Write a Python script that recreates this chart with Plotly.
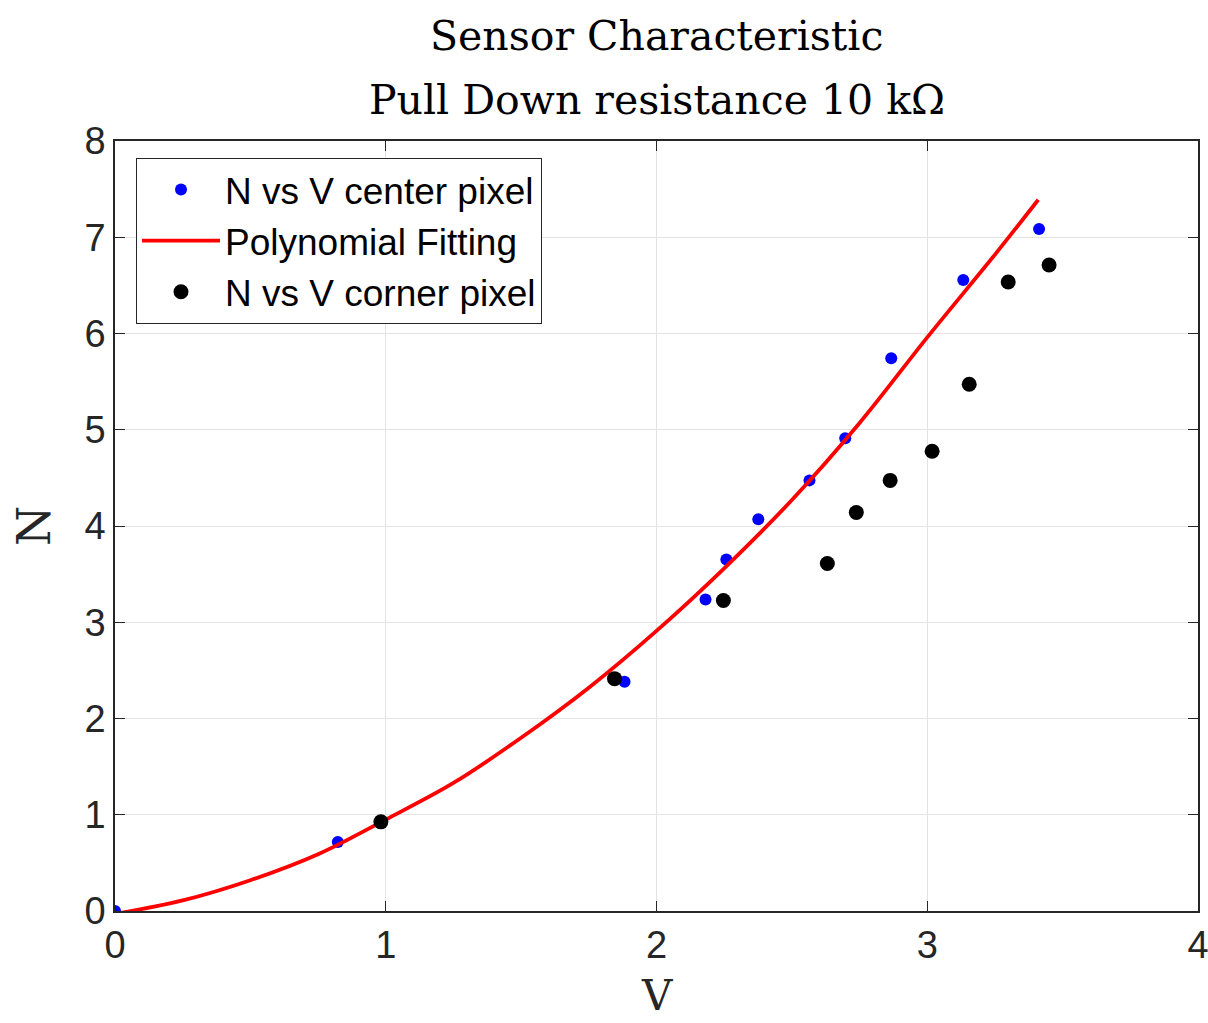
import plotly.graph_objects as go

# Data
center_v = [0.0, 0.823, 1.882, 2.181, 2.258, 2.376, 2.565, 2.697, 2.867, 3.133, 3.413]
center_n = [0.0, 0.718, 2.383, 3.236, 3.652, 4.069, 4.474, 4.911, 5.744, 6.556, 7.086]

corner_v = [0.982, 1.845, 2.247, 2.631, 2.738, 2.863, 3.018, 3.155, 3.299, 3.450]
corner_n = [0.926, 2.414, 3.226, 3.611, 4.141, 4.474, 4.776, 5.473, 6.535, 6.712]

fit_v = [0.0, 0.25, 0.5, 0.75, 1.0, 1.25, 1.5, 1.75, 2.0, 2.25, 2.5, 2.75, 3.0, 3.25, 3.41]
fit_n = [-0.03, 0.11, 0.32, 0.59, 0.95, 1.33, 1.80, 2.32, 2.91, 3.56, 4.27, 5.07, 5.96, 6.82, 7.39]

x_ticks = [0, 1, 2, 3, 4]
y_ticks = [0, 1, 2, 3, 4, 5, 6, 7, 8]

fig = go.Figure()
fig.add_trace(go.Scatter(x=center_v, y=center_n, mode="markers", name="N vs V center pixel",
                         marker=dict(color="#0000ff", size=12)))
fig.add_trace(go.Scatter(x=fit_v, y=fit_n, mode="lines", name="Polynomial Fitting",
                         line=dict(color="#ff0000", width=3.8, shape="spline")))
fig.add_trace(go.Scatter(x=corner_v, y=corner_n, mode="markers", name="N vs V corner pixel",
                         marker=dict(color="#000000", size=15)))

axis_common = dict(
    showgrid=True, gridcolor="#e3e3e3", gridwidth=1,
    showline=True, linecolor="#262626", linewidth=1.5, mirror="ticks",
    ticks="inside", ticklen=10, tickwidth=1.2, tickcolor="#262626",
    zeroline=False, ticklabeloverflow="allow",
    tickfont=dict(family="Liberation Sans, Arial, sans-serif", size=38, color="#262626"),
)

fig.update_xaxes(range=[0, 4], tickvals=x_ticks, ticktext=[str(v) for v in x_ticks], **axis_common)
fig.update_yaxes(range=[0, 8], tickvals=y_ticks, ticktext=[str(v) for v in y_ticks], **axis_common)

serif = "DejaVu Serif, serif"
fig.update_layout(
    width=1218, height=1023,
    margin=dict(l=115, r=9, t=141, b=112),
    paper_bgcolor="white", plot_bgcolor="white",
    showlegend=True,
    legend=dict(
        x=0.0194, y=0.978, xanchor="left", yanchor="top",
        bgcolor="white", bordercolor="#262626", borderwidth=1,
        font=dict(family="Liberation Sans, Arial, sans-serif", size=37, color="#000000"),
        itemwidth=78, tracegroupgap=0,
    ),
    annotations=[
        dict(text="Sensor Characteristic", x=0.5, y=1, xref="paper", yref="paper",
             xanchor="center", yanchor="middle", yshift=141 - 36, showarrow=False,
             font=dict(family=serif, size=41, color="#000000")),
        dict(text="Pull Down resistance 10 kΩ", x=0.5, y=1, xref="paper", yref="paper",
             xanchor="center", yanchor="middle", yshift=141 - 100, showarrow=False,
             font=dict(family=serif, size=41, color="#000000")),
        dict(text="V", x=0.5, y=0, xref="paper", yref="paper",
             xanchor="center", yanchor="middle", yshift=-(995 - 911), showarrow=False,
             font=dict(family=serif, size=42, color="#262626")),
        dict(text="N", x=0, y=0.5, xref="paper", yref="paper", textangle=-90,
             xanchor="center", yanchor="middle", xshift=-(115 - 34), showarrow=False,
             font=dict(family=serif, size=46, color="#262626")),
    ],
)

fig.write_html(
    "out.html",
    config={"responsive": False, "displayModeBar": False},
    post_script="document.body.style.margin='0';document.body.style.overflow='hidden';",
)
